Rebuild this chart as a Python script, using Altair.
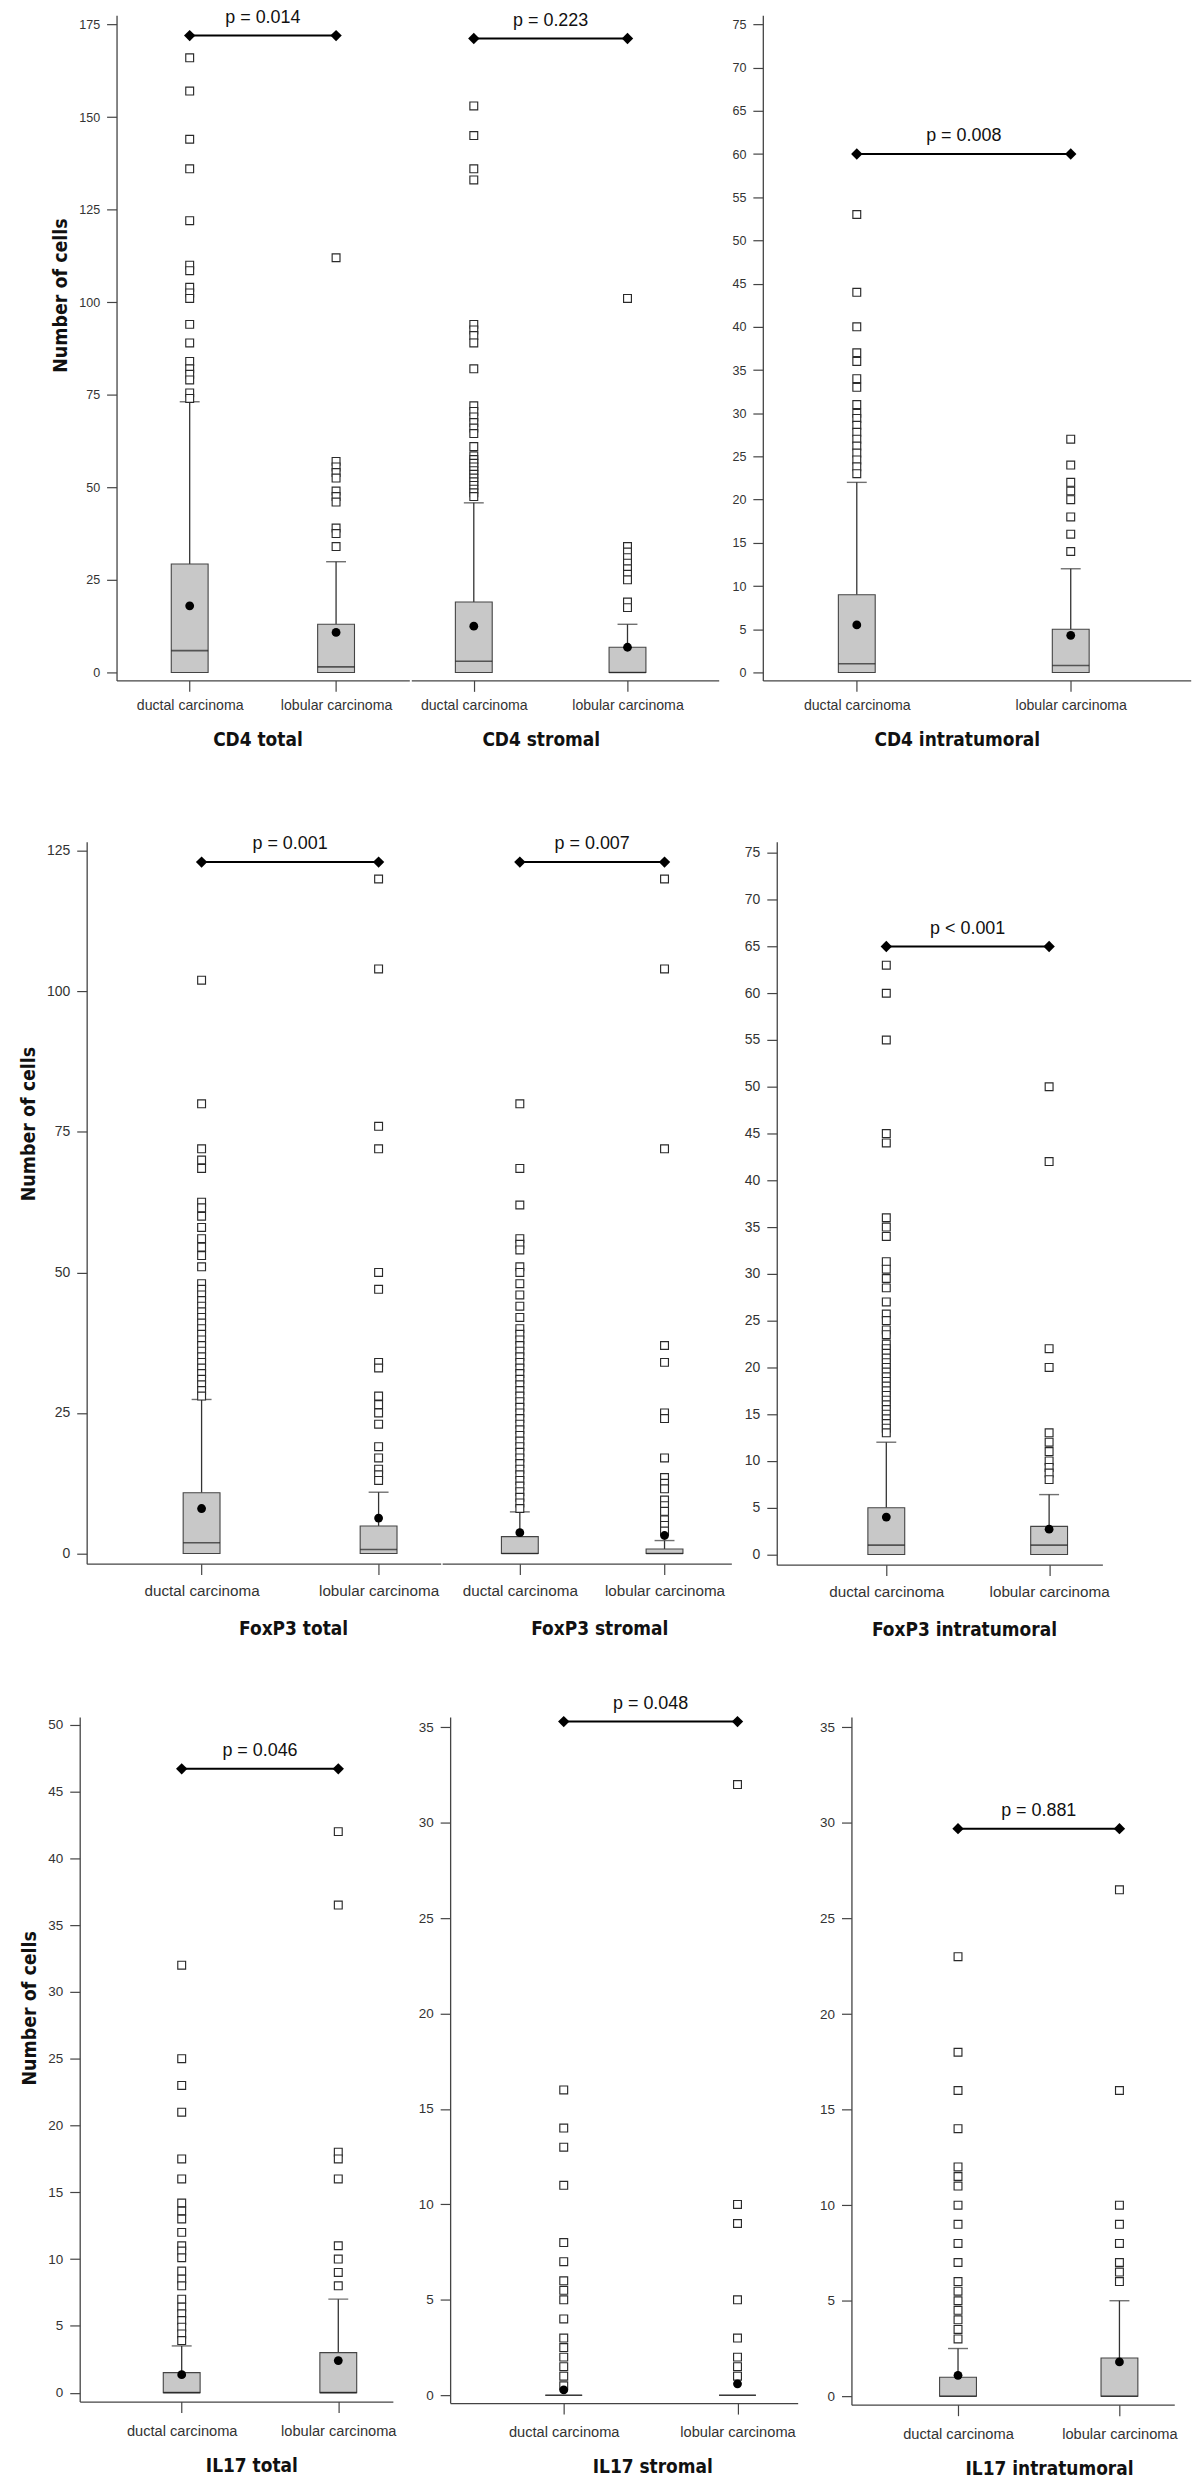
import altair as alt
import pandas as pd

# ---------------- data ----------------
GROUPS = ["CD4 total", "CD4 stromal", "CD4 intratumoral",
          "FoxP3 total", "FoxP3 stromal", "FoxP3 intratumoral",
          "IL17 total", "IL17 stromal", "IL17 intratumoral"]
CATS = ["ductal carcinoma", "lobular carcinoma"]
Y_LABEL = "Number of cells"

P_LABELS = ["p = 0.014", "p = 0.223", "p = 0.008",
            "p = 0.001", "p = 0.007", "p < 0.001",
            "p = 0.046", "p = 0.048", "p = 0.881"]
P_LEVEL = [172, 171.2, 60, 123, 123, 65, 46.7, 35.3, 29.7]

Q1_D = [0, 0, 0, 0, 0, 0, 0, 0, 0]
Q1_L = [0, 0, 0, 0, 0, 0, 0, 0, 0]
MEDIAN_D = [5.9, 3.0, 1.0, 1.9, 0.0, 1.0, 0.0, 0.0, 0.0]
MEDIAN_L = [1.5, 0.0, 0.8, 0.7, 0.0, 1.0, 0.0, 0.0, 0.0]
Q3_D = [29.3, 19.0, 9.0, 10.8, 3.0, 5.0, 1.5, 0.0, 1.0]
Q3_L = [13.0, 6.8, 5.0, 4.9, 0.8, 3.0, 3.0, 0.0, 2.0]
WHISKER_D = [73.1, 45.8, 22.0, 27.4, 7.4, 12.0, 3.5, 0.0, 2.5]
WHISKER_L = [29.9, 13.0, 12.0, 10.9, 2.3, 6.4, 7.0, 0.0, 5.0]
MEAN_D = [18.0, 12.5, 5.5, 8.0, 3.7, 4.0, 1.35, 0.28, 1.1]
MEAN_L = [10.8, 6.8, 4.3, 6.3, 3.2, 2.7, 2.4, 0.6, 1.8]

cd4_total_d = [166, 157, 144, 136, 122, 110, 108.5, 104, 102.5, 101, 94, 89, 84, 82, 80.5, 79, 75.5, 74]
cd4_total_l = [112, 57, 55.5, 54, 52.5, 49, 47.5, 46, 39, 37.5, 34]
cd4_stromal_d = [153, 145, 136, 133, 94, 92.5, 91, 89, 82, 72, 70.5, 69, 67.5, 66, 64.5, 61,
                 58.5, 57.5, 56.5, 55.5, 54.5, 53.5, 52.5, 51.5, 50.5, 49.5, 48.5, 47.5]
cd4_stromal_l = [101, 34, 32.5, 31, 29.5, 28, 26.5, 25, 19, 17.5]
cd4_intra_d = [53, 44, 40, 37, 36, 34, 33, 31, 30, 29.4, 28.6, 27.8, 27, 26.2, 25.4, 24.6, 23.8, 23]
cd4_intra_l = [27, 24, 22, 21, 20, 18, 16, 14]
foxp3_total_d = [102, 80, 72, 70, 68.5, 62.5, 61.5, 60, 58, 56, 54.5, 53, 51,
                 48, 47, 46, 45, 44, 43, 42, 41, 40, 39, 38, 37, 36, 35, 34, 33, 32, 31, 30, 29, 28]
foxp3_total_l = [120, 104, 76, 72, 50, 47, 34, 33, 28, 26.5, 25, 23, 19, 17, 15, 14, 13]
foxp3_stromal_d = [80, 68.5, 62, 56, 55, 54, 51, 50, 48, 46, 44, 42,
                   40, 39, 38, 37, 36, 35, 34, 33, 32, 31, 30, 29, 28, 27, 26, 25, 24, 23, 22, 21,
                   20, 19, 18, 17, 16, 15, 14, 13, 12, 11, 10, 9, 8]
foxp3_stromal_l = [120, 104, 72, 37, 34, 25, 24, 17, 13.5, 12.5, 11.5, 9.5, 8.5, 7.5, 6, 5, 4]
foxp3_intra_d = [63, 60, 55, 45, 44, 36, 35, 34, 31.3, 30.5, 29.5, 28.5, 27, 25.7, 25, 24, 23.5,
                 22.5, 22, 21.5, 21, 20.5, 20, 19.5, 19, 18.5, 18, 17.5, 17, 16.5, 16, 15.5, 15,
                 14.5, 14, 13.5, 13]
foxp3_intra_l = [50, 42, 22, 20, 13, 12, 11, 10, 9.3, 8.7, 8]
il17_total_d = [32, 25, 23, 21, 17.5, 16, 14.2, 13.6, 13, 12, 11, 10.6, 10.1, 9.1, 8.5, 8, 7,
                6.4, 5.9, 5.4, 4.9, 4.4, 3.9]
il17_total_l = [42, 36.5, 18, 17.5, 16, 11, 10, 9, 8]
il17_stromal_d = [16, 14, 13, 11, 8, 7, 6, 5.5, 5, 4, 3, 2.5, 2, 1.5, 1, 0.5]
il17_stromal_l = [32, 10, 9, 5, 3, 2, 1.5, 1]
il17_intra_d = [23, 18, 16, 14, 12, 11.5, 11, 10, 9, 8, 7, 6, 5.5, 5, 4.5, 4, 3.5, 3]
il17_intra_l = [26.5, 16, 10, 9, 8, 7, 6.5, 6]

OUT_D = [cd4_total_d, cd4_stromal_d, cd4_intra_d, foxp3_total_d, foxp3_stromal_d,
         foxp3_intra_d, il17_total_d, il17_stromal_d, il17_intra_d]
OUT_L = [cd4_total_l, cd4_stromal_l, cd4_intra_l, foxp3_total_l, foxp3_stromal_l,
         foxp3_intra_l, il17_total_l, il17_stromal_l, il17_intra_l]

TICKS_175 = [0, 25, 50, 75, 100, 125, 150, 175]
TICKS_125 = [0, 25, 50, 75, 100, 125]
TICKS_75 = [0, 5, 10, 15, 20, 25, 30, 35, 40, 45, 50, 55, 60, 65, 70, 75]
TICKS_50 = [0, 5, 10, 15, 20, 25, 30, 35, 40, 45, 50]
TICKS_35 = [0, 5, 10, 15, 20, 25, 30, 35]

# ---------------- styling ----------------
TITLE_FONT = "DejaVu Sans Condensed, DejaVu Sans"
LABEL_FONT = "Liberation Sans"
AX = "#444444"
INK = "#333333"


def cell(gi, W, H, d, l, ydom, yticks, yfs, xfs, lab_pad, ttl_pad, title_x,
         yaxis="none", ytitle_y=0):
    g = GROUPS[gi]
    rows = []
    for c, q1, med, q3, wh, mn, outs in (
            (CATS[0], Q1_D[gi], MEDIAN_D[gi], Q3_D[gi], WHISKER_D[gi], MEAN_D[gi], OUT_D[gi]),
            (CATS[1], Q1_L[gi], MEDIAN_L[gi], Q3_L[gi], WHISKER_L[gi], MEAN_L[gi], OUT_L[gi])):
        rows.append({"kind": "box", "cat": c, "q1": q1, "med": med, "q3": q3,
                     "wh": wh, "mean": mn})
        rows += [{"kind": "out", "cat": c, "v": v} for v in outs]
    rows.append({"kind": "p", "cat": CATS[0], "cat2": CATS[1], "mid": "mid",
                 "py": P_LEVEL[gi], "ptxt": P_LABELS[gi]})
    df = pd.DataFrame(rows)

    span = l - d
    rest = W - span
    xsc = alt.Scale(type="point", domain=[CATS[0], "mid", CATS[1]],
                    padding=rest / span, align=d / rest)
    xax = alt.Axis(values=CATS, labelAngle=0, tickSize=11, tickColor=AX, tickWidth=1.2,
                   domainColor=AX, domainWidth=1.3, labelFont=LABEL_FONT,
                   labelFontSize=xfs, labelColor=INK, labelPadding=lab_pad,
                   titleFont=TITLE_FONT, titleFontSize=19, titleFontWeight="bold",
                   titleColor="#111111", titlePadding=ttl_pad, titleX=title_x, grid=False)
    ysc = alt.Scale(domain=ydom, nice=False, zero=False)
    ytitle = None
    if yaxis == "none":
        yax = None
    else:
        kw = dict(values=yticks, format="d", tickSize=10, tickColor=AX, tickWidth=1.2,
                  domainColor=AX, domainWidth=1.3, labelFont=LABEL_FONT, labelFontSize=yfs,
                  labelColor=INK, labelPadding=7, grid=False)
        if yaxis == "title":
            ytitle = Y_LABEL
            kw.update(titleFont=TITLE_FONT, titleFontSize=19.5, titleFontWeight="bold",
                      titleColor="#111111", titlePadding=8, titleY=ytitle_y)
        yax = alt.Axis(**kw)

    def X(f):
        return alt.X(f, type="nominal", scale=xsc, axis=xax, title=g)

    def Y(f):
        return alt.Y(f, type="quantitative", scale=ysc, axis=yax, title=ytitle)

    base = alt.Chart(df)
    boxes = base.transform_filter("datum.kind == 'box'")
    wsk = boxes.transform_filter("datum.wh > datum.q3")
    outs = base.transform_filter("datum.kind == 'out'")
    pp = base.transform_filter("datum.kind == 'p'")

    whisk = wsk.mark_rule(color=INK, strokeWidth=1.3).encode(x=X("cat"), y=Y("q3"), y2="wh")
    cap = wsk.mark_tick(color=INK, size=20, thickness=1.4).encode(x=X("cat"), y=Y("wh"))
    box = boxes.mark_bar(size=37, fill="#c8c8c8", stroke=AX, strokeWidth=1.1).encode(
        x=X("cat"), y=Y("q1"), y2="q3")
    med = boxes.mark_tick(color="#222222", size=37, thickness=1.6).encode(x=X("cat"), y=Y("med"))
    pts = outs.mark_square(size=62, color="white", stroke="#2a2a2a", strokeWidth=1.15,
                           opacity=1).encode(x=X("cat"), y=Y("v"))
    mean = boxes.mark_circle(size=78, color="black", opacity=1).encode(x=X("cat"), y=Y("mean"))
    brk = pp.mark_rule(color="black", strokeWidth=2).encode(x=X("cat"), x2="cat2", y=Y("py"))
    dl = pp.mark_point(shape="diamond", filled=True, color="black", size=130, opacity=1).encode(
        x=X("cat"), y=Y("py"))
    dr = pp.mark_point(shape="diamond", filled=True, color="black", size=130, opacity=1).encode(
        x=X("cat2"), y=Y("py"))
    txt = pp.mark_text(font=LABEL_FONT, fontSize=18, color="#111111", dy=-13,
                       baseline="alphabetic").encode(x=X("mid"), y=Y("py"), text="ptxt:N")
    return alt.layer(whisk, cap, box, med, pts, mean, brk, dl, dr, txt).properties(
        width=W, height=H)


def spacer(w):
    return alt.Chart(pd.DataFrame({"s": [0]})).mark_point(opacity=0).encode(
        x=alt.value(0), y=alt.value(0)).properties(width=w, height=1)


# row 1: CD4
r1a = cell(0, 294, 668, 81.5, 212.4, [-2.15, 177.5], TICKS_175, 12.6, 14.2, 7, 18, 141.5,
           "title", 281)
r1b = cell(1, 308.7, 668, 68.8, 208.3, [-2.15, 177.5], TICKS_175, 12.6, 14.2, 7, 18, 130)
r1c = cell(2, 429.7, 668, 124.7, 270.5, [-0.92, 76.07], TICKS_75, 12.6, 14.2, 7, 18, 194.8,
           "plain")
# row 2: FoxP3
r2a = cell(3, 355.5, 725, 143.1, 278.2, [-1.81, 126.63], TICKS_125, 14, 15.3, 9, 21, 207.3,
           "title", 283)
r2b = cell(4, 290.4, 725, 78, 223.3, [-1.81, 126.63], TICKS_125, 14, 15.3, 9, 21, 157.8)
r2c = cell(5, 327, 726, 130.2, 263.7, [-1.09, 76.2], TICKS_75, 14, 15.3, 9, 21, 188, "plain")
# row 3: IL17
r3a = cell(6, 314.5, 687.5, 119.4, 250.6, [-0.67, 50.58], TICKS_50, 13.5, 14.7, 11, 18, 172.4,
           "title", 292)
r3b = cell(7, 349, 689, 131.6, 279.3, [-0.41, 35.54], TICKS_35, 13.5, 14.7, 11, 18, 203, "plain")
r3c = cell(8, 324.2, 690.6, 124.4, 260.2, [-0.44, 35.54], TICKS_35, 13.5, 14.7, 11, 18, 198.4,
           "plain")

row1 = alt.hconcat(alt.hconcat(spacer(37), r1a, r1b, spacing=0), r1c, spacing=11)
row2 = alt.hconcat(alt.hconcat(spacer(5), r2a, r2b, spacing=0), r2c, spacing=11)
row3 = alt.hconcat(spacer(6), alt.hconcat(r3a, r3b, r3c, spacing=20), spacing=0)

chart = alt.vconcat(alt.vconcat(row1, row2, spacing=84), row3, spacing=54).properties(
    padding={"left": 0, "top": -6, "right": 0, "bottom": 0}
).configure_view(stroke="transparent")

chart.save("out.html", embed_options={"renderer": "svg", "actions": False})
